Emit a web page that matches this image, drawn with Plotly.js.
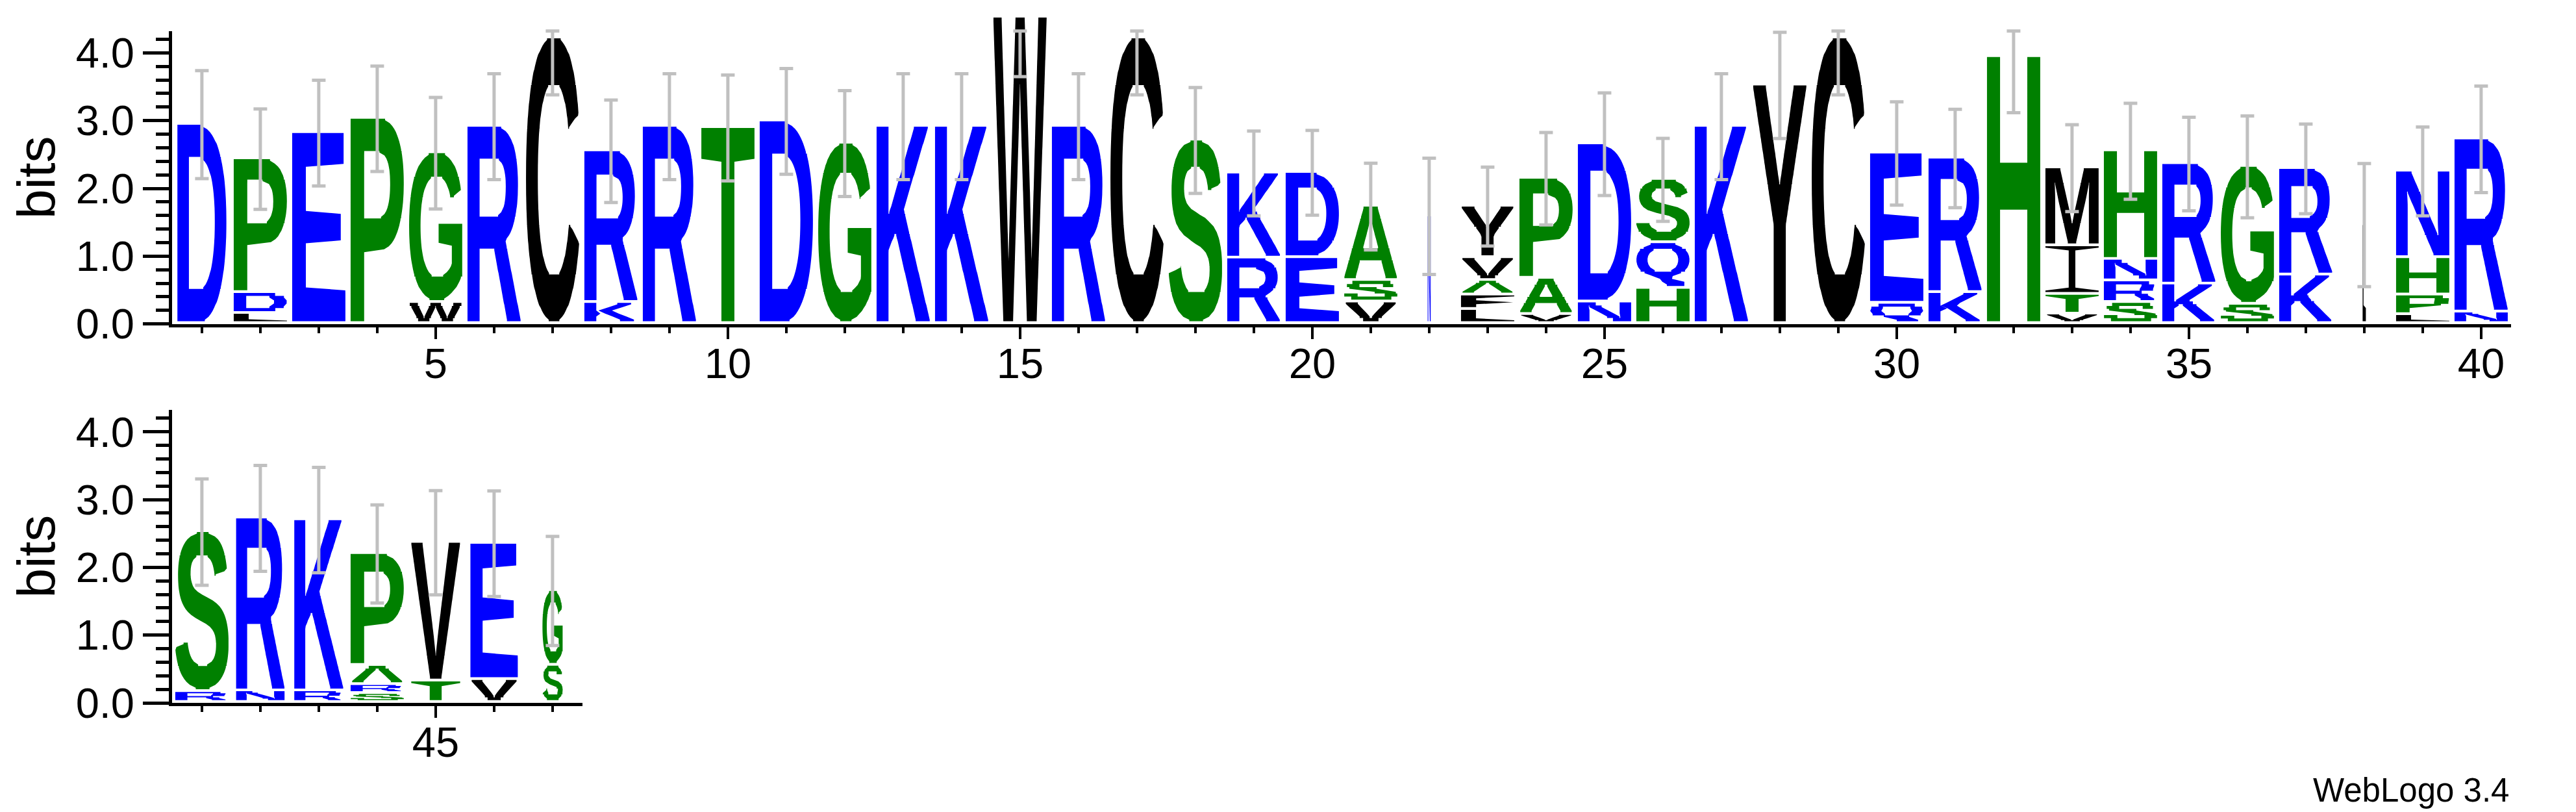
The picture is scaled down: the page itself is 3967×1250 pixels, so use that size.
<!DOCTYPE html>
<html>
<head>
<meta charset="utf-8">
<script src="https://cdn.plot.ly/plotly-3.0.1.min.js"></script>
<style>
html, body { margin: 0; padding: 0; background: #ffffff; }
#chart { width: 3967px; height: 1250px; }
</style>
</head>
<body>
<div id="chart"></div>
<script>
const positions = [1,2,3,4,5,6,7,8,9,10,11,12,13,14,15,16,17,18,19,20,
                   21,22,23,24,25,26,27,28,29,30,31,32,33,34,35,36,37,38,39,40,
                   41,42,43,44,45,46,47];
// letters of each stack, from bottom to top
const stackLetters = ["D","LDP","E","P","WG","R","C","KR","R","T",
                      "D","G","K","K","W","R","C","S","RK","ED",
                      "VSA","N","LFAVY","VAP","ND","HQS","K","Y","C","QE",
                      "KR","H","VTIM","SRNH","KR","SG","KR","L","LPHN","NR",
                      "RS","NR","RK","SRAP","TV","VE","SG"];
// height of each letter in bits, same order as stackLetters
const stackHeights = [
  [2.940],[0.149,0.308,1.974],[2.817],[3.028],[0.311,2.208],
  [2.911],[4.214],[0.311,2.237],[2.911],[2.891],
  [2.989],[2.661],[2.911],[2.911],[4.522],
  [2.911],[4.214],[2.707],[0.966,1.254],[0.972,1.258],
  [0.318,0.317,1.096],[1.588],[0.207,0.214,0.214,0.337,0.759],[0.133,0.535,1.475],[0.318,2.334],
  [0.519,0.674,0.933],[2.911],[3.520],[4.214],[0.298,2.217],
  [0.457,1.984],[3.938],[0.139,0.292,0.716,1.151],[0.311,0.318,0.318,1.601],[0.583,1.777],
  [0.285,2.033],[0.716,1.572],[1.459],[0.130,0.291,0.551,1.278],[0.169,2.554],
  [0.161,2.360],[0.172,2.551],[0.172,2.525],[0.132,0.132,0.283,1.651],[0.316,2.047],
  [0.338,2.011],[0.550,1.101]
];
// error bar half-size (bits) for each stack
const errorBits = [0.797,0.741,0.780,0.778,0.823,0.781,0.833,0.757,0.781,0.781,
                   0.781,0.781,0.781,0.781,0.872,0.781,0.833,0.781,0.626,0.626,
                   0.640,0.859,0.583,0.682,0.757,0.613,0.781,0.783,0.833,0.762,
                   0.726,0.820,0.642,0.708,0.690,0.752,0.661,0.908,0.656,0.786,
                   0.785,0.782,0.778,0.725,0.769,0.778,0.806];
// stack width relative to a full column (non-gap fraction)
const widthFraction = [0.92,1,1,1,1,1,1,1,1,1,
                       1,1,1,1,1,1,1,1,1,1,
                       1,0.057,1,1,1,1,1,1,1,1,
                       1,1,1,1,1,1,1,0.061,1,1,
                       1,0.91,0.92,1,0.92,0.89,0.38];
// hydrophobicity colour scheme
const hydrophilic = "RKDENQ";
const neutral = "SGHTAP";
const hydrophobic = "YVMCLFIW";
const schemeColors = { hydrophilic: "#0000FF", neutral: "#008000", hydrophobic: "#000000" };
const yAxisTitle = "bits";
const footerText = "WebLogo 3.4";

// ---------------- layout constants ----------------
const W = 3967, H = 1250;
const PX_PER_BIT = 104.3, PX_PER_POS = 90;
const MAX_BITS = Math.log2(20);
const LETTER_GAP = 0.04;
const STACK_WIDTH = 0.911;
const FONT = '"Liberation Sans", Arial, Helvetica, sans-serif';

function letterColor(ch) {
  if (hydrophilic.includes(ch)) return schemeColors.hydrophilic;
  if (neutral.includes(ch)) return schemeColors.neutral;
  return schemeColors.hydrophobic;
}

// ---------------- glyph outlines from the font ----------------
const glyphCache = {};
function getGlyph(ch) {
  if (glyphCache[ch]) return glyphCache[ch];
  const S = 440;
  const c = document.createElement('canvas');
  c.width = S; c.height = S;
  const g = c.getContext('2d');
  g.fillStyle = '#000';
  if (ch === 'I') {
    // WebLogo draws I with bars
    g.fillRect(60, 60, 240, 20);
    g.fillRect(165, 60, 30, 300);
    g.fillRect(60, 340, 240, 20);
  } else {
    g.font = 'bold 300px "Liberation Sans"';
    g.textBaseline = 'alphabetic';
    g.fillText(ch, 60, 330);
  }
  const d = g.getImageData(0, 0, S, S).data;
  const A = (x, y) => (x < 0 || x >= S) ? 0 : d[(y * S + x) * 4 + 3] / 255;
  let x0 = S, x1 = -1, y0 = S, y1 = -1;
  for (let y = 0; y < S; y++) for (let x = 0; x < S; x++) {
    if (A(x, y) >= 0.5) { if (x < x0) x0 = x; if (x > x1) x1 = x; if (y < y0) y0 = y; if (y > y1) y1 = y; }
  }
  const bw = x1 - x0 + 1, bh = y1 - y0 + 1;
  function runs(v) {
    const y = Math.min(y1, y0 + Math.floor(v * bh));
    const out = [];
    let x = x0;
    while (x <= x1) {
      if (A(x, y) >= 0.5) {
        const xs = x;
        while (x <= x1 && A(x, y) >= 0.5) x++;
        const xe = x - 1;
        const e0 = xs + (1 - A(xs, y)) - A(xs - 1, y);
        const e1 = xe + A(xe, y) + A(xe + 1, y);
        out.push([Math.max(0, (e0 - x0) / bw), Math.min(1, (e1 - x0) / bw)]);
      } else x++;
    }
    return out;
  }
  return (glyphCache[ch] = { runs });
}

function glyphPath(ch, xL, xR, yB, yT, rows) {
  const gl = getGlyph(ch);
  const R = [];
  for (let i = 0; i < rows; i++) R.push(gl.runs((i + 0.5) / rows));
  const X = u => (xL + u * (xR - xL)).toFixed(4);
  const Y = v => (yT - v * (yT - yB)).toFixed(4);
  let s = '';
  const quad = (a0, b0, v0, a1, b1, v1) => {
    s += 'M' + X(a0) + ',' + Y(v0) + 'L' + X(b0) + ',' + Y(v0) +
         'L' + X(b1) + ',' + Y(v1) + 'L' + X(a1) + ',' + Y(v1) + 'Z';
  };
  const rect = (rr, v0, v1) => rr.forEach(r => quad(r[0], r[1], v0, r[0], r[1], v1));
  rect(R[0], 0, 0.5 / rows);
  for (let i = 0; i < rows - 1; i++) {
    const P = R[i], Q = R[i + 1];
    const v0 = (i + 0.5) / rows, v1 = (i + 1.5) / rows;
    let ok = P.length === Q.length && P.length > 0;
    if (ok) for (let j = 0; j < P.length; j++) {
      if (!(P[j][0] < Q[j][1] && Q[j][0] < P[j][1])) { ok = false; break; }
    }
    if (ok) { for (let j = 0; j < P.length; j++) quad(P[j][0], P[j][1], v0, Q[j][0], Q[j][1], v1); }
    else { rect(P, v0, v0 + 0.5 / rows); rect(Q, v1 - 0.5 / rows, v1); }
  }
  rect(R[rows - 1], (rows - 0.5) / rows, 1);
  return s;
}

// ---------------- panels ----------------
const panels = [
  { first: 1,  last: 40, zeroPx: 498.6, leftPx: 265, xa: 'x',  ya: 'y',  ga: 'y2', glyphTop: 4.65 },
  { first: 41, last: 47, zeroPx: 1082,  leftPx: 265, xa: 'x2', ya: 'y3', ga: 'y3', glyphTop: MAX_BITS }
];

function build() {
  const shapes = [];
  const traces = [];
  // keeps the top panel's visible axes as a subplot
  traces.push({ type: 'scatter', mode: 'markers', x: [], y: [], xaxis: 'x', yaxis: 'y',
                hoverinfo: 'skip', showlegend: false });
  panels.forEach(pn => {
    const xs = [], lows = [], plus = [], zeros = [];
    positions.forEach((p, i) => {
      if (p < pn.first || p > pn.last) return;
      const letters = stackLetters[i], hs = stackHeights[i];
      const halfW = STACK_WIDTH * widthFraction[i] / 2;
      let base = 0;
      for (let k = 0; k < letters.length; k++) {
        const ch = letters[k], h = hs[k];
        const yB = base + LETTER_GAP, yT = base + h;
        const rows = Math.max(6, Math.min(100, Math.round((yT - yB) * PX_PER_BIT / 4.5)));
        shapes.push({
          type: 'path', xref: pn.xa, yref: pn.ga, layer: 'below',
          path: glyphPath(ch, p - halfW, p + halfW, yB, yT, rows),
          fillcolor: letterColor(ch), line: { width: 0 }
        });
        base += h;
      }
      const lo = Math.max(0, base - errorBits[i]);
      const hi = Math.min(MAX_BITS, base + errorBits[i]);
      xs.push(p); lows.push(lo); plus.push(hi - lo); zeros.push(0);
    });
    traces.push({
      type: 'scatter', mode: 'markers', x: xs, y: lows,
      xaxis: pn.xa, yaxis: pn.ga,
      marker: { size: 1, opacity: 0 },
      error_y: { type: 'data', symmetric: false, array: plus, arrayminus: zeros,
                 color: '#C0C0C0', thickness: 5, width: 10.5 },
      hoverinfo: 'skip', showlegend: false
    });
  });

  const tickFont = { family: FONT, size: 65, color: '#000' };
  function xAxis(pn, anchor) {
    const r0 = pn.first - 0.51, r1 = pn.last + 0.51;
    return {
      domain: [pn.leftPx / W, (pn.leftPx + (r1 - r0) * PX_PER_POS) / W],
      range: [r0, r1], anchor: anchor,
      showline: true, linewidth: 5, linecolor: '#000',
      showgrid: false, zeroline: false,
      ticks: 'outside', tickmode: 'linear', tick0: 0, dtick: 5,
      ticklen: 18, tickwidth: 4, tickcolor: '#000',
      minor: { ticks: 'outside', tickmode: 'linear', tick0: 0, dtick: 1, ticklen: 9, tickwidth: 4, tickcolor: '#000' },
      tickfont: tickFont, ticklabelstandoff: -18, fixedrange: true
    };
  }
  function yDomain(pn, top) {
    return [1 - pn.zeroPx / H, 1 - (pn.zeroPx - top * PX_PER_BIT) / H];
  }
  function yAxis(pn, anchor) {
    return {
      domain: yDomain(pn, MAX_BITS), range: [0, MAX_BITS], anchor: anchor,
      showline: true, linewidth: 5, linecolor: '#000',
      showgrid: false, zeroline: false,
      ticks: 'outside', tickmode: 'linear', tick0: 0, dtick: 1, tickformat: '.1f',
      ticklen: 40, tickwidth: 5, tickcolor: '#000',
      minor: { ticks: 'outside', tickmode: 'linear', tick0: 0, dtick: 0.2, ticklen: 20, tickwidth: 5, tickcolor: '#000' },
      tickfont: tickFont,
      title: { text: yAxisTitle, font: { family: FONT, size: 82, color: '#000' }, standoff: 6 },
      fixedrange: true
    };
  }

  const layout = {
    width: W, height: H,
    margin: { l: 0, r: 0, t: 0, b: 0, pad: 0 },
    paper_bgcolor: '#ffffff', plot_bgcolor: 'rgba(0,0,0,0)',
    showlegend: false, hovermode: false,
    xaxis: xAxis(panels[0], 'y'),
    yaxis: yAxis(panels[0], 'x'),
    yaxis2: { domain: yDomain(panels[0], panels[0].glyphTop), range: [0, panels[0].glyphTop],
              anchor: 'x', visible: false, fixedrange: true },
    xaxis2: xAxis(panels[1], 'y3'),
    yaxis3: yAxis(panels[1], 'x2'),
    shapes: shapes,
    annotations: [{
      text: footerText, xref: 'paper', yref: 'paper',
      x: 3866 / W, y: 1 - 1216 / H, xanchor: 'right', yanchor: 'middle',
      showarrow: false, font: { family: FONT, size: 51, color: '#000' }
    }]
  };
  Plotly.newPlot('chart', traces, layout, { staticPlot: true, displayModeBar: false });
}

if (document.fonts && document.fonts.load) {
  document.fonts.load('bold 300px "Liberation Sans"').then(build, build);
} else {
  build();
}
</script>
</body>
</html>
